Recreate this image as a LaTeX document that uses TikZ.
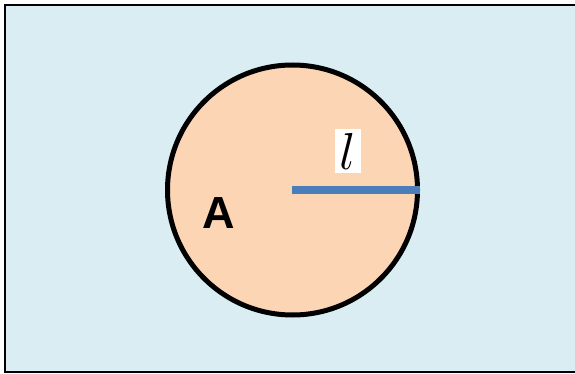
\RequirePackage{fix-cm}
\documentclass[tikz,border=0pt]{standalone}
\usepackage{fontspec}
\setsansfont{Liberation Sans}
\definecolor{paleblue}{RGB}{218,237,243}
\definecolor{peach}{RGB}{252,213,181}
\definecolor{steelblue}{RGB}{74,126,187}
\begin{document}
\begin{tikzpicture}[x=1pt, y=-1pt,
  frame/.style={draw=black, line width=2pt, fill=paleblue},
  disk/.style={circle, draw=black, line width=5pt, fill=peach, minimum size=250pt, inner sep=0pt},
  radiusline/.style={draw=steelblue, line width=8pt},
  lab/.style={font=\fontsize{52}{52}\selectfont, fill=white, inner xsep=5pt, inner ysep=4pt}
]
  \useasboundingbox (0,0) rectangle (575,374);

  % background panel
  \node[frame, minimum width=572pt, minimum height=367pt, inner sep=0pt] (panel) at (290.5,188.5) {};

  % the disk and its radius
  \node[disk] (disk) at (292.5,190) {};
  \coordinate (centre) at (292,190);
  \draw[radiusline] (centre) -- (disk.east);

  % labels
  \node[lab] (length) at (348,151) {$l$};
  \node[font=\sffamily\bfseries\fontsize{45}{45}\selectfont] (area) at (219,213) {A};
\end{tikzpicture}
\end{document}
